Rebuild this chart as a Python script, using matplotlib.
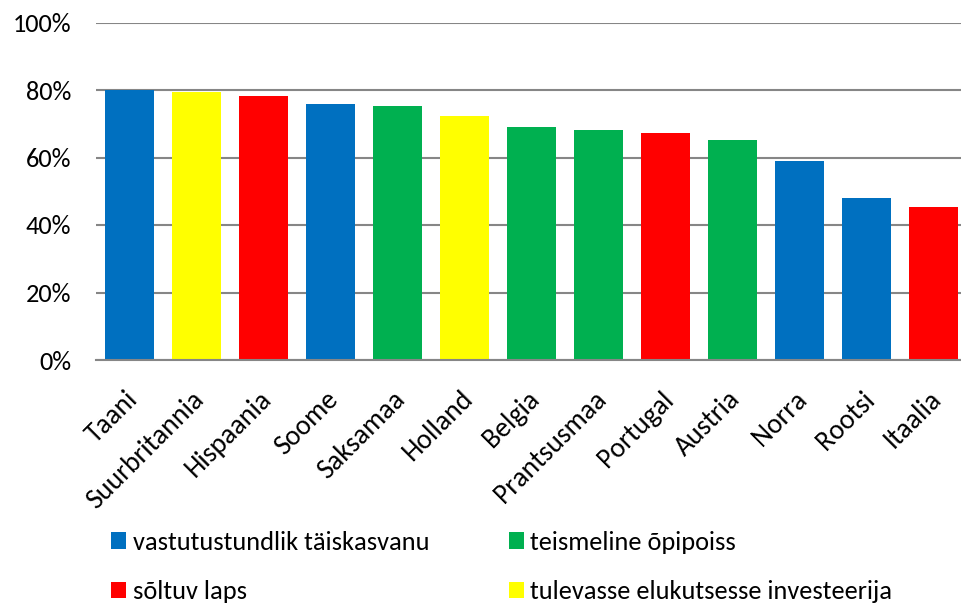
import matplotlib
matplotlib.use("Agg")
import matplotlib.pyplot as plt
from matplotlib import font_manager as fm
from matplotlib.patches import Patch
from matplotlib.ticker import PercentFormatter
from matplotlib.transforms import ScaledTranslation

# Calibri look-alike if we have one
installed = {f.name for f in fm.fontManager.ttflist}
font = next((f for f in ["Carlito", "Calibri", "Lato"] if f in installed), "DejaVu Sans")
plt.rcParams["font.family"] = [font, "DejaVu Sans"]

countries = ["Taani", "Suurbritannia", "Hispaania", "Soome", "Saksamaa", "Holland",
             "Belgia", "Prantsusmaa", "Portugal", "Austria", "Norra", "Rootsi", "Itaalia"]
values = [80, 79.3, 78.2, 75.9, 75.3, 72.2, 69.1, 68.2, 67.3, 65.3, 59.0, 48.0, 45.2]
groups = ["blue", "yellow", "red", "blue", "green", "yellow",
          "green", "green", "red", "green", "blue", "blue", "red"]

group_labels = {
    "blue": "vastutustundlik täiskasvanu",
    "green": "teismeline õpipoiss",
    "red": "sõltuv laps",
    "yellow": "tulevasse elukutsesse investeerija",
}
group_colors = {"blue": "#0070C0", "green": "#00B050", "red": "#FF0000", "yellow": "#FFFF00"}

fig = plt.figure(figsize=(9.62, 6.05), dpi=100)
ax = fig.add_axes([96 / 962, 245 / 605, 871 / 962, 337.5 / 605])

x = range(len(countries))
ax.bar(x, values, width=0.72, color=[group_colors[g] for g in groups], zorder=2)

ax.set_ylim(0, 100)
ax.set_xlim(-0.5, len(countries) - 0.5)
ax.set_yticks(range(0, 101, 20))
ax.yaxis.set_major_formatter(PercentFormatter(decimals=0))
ax.grid(axis="y", color="#868686", linewidth=1.5, zorder=0)
ax.set_axisbelow(True)
for s in ["left", "right", "top"]:
    ax.spines[s].set_visible(False)
ax.spines["bottom"].set_color("#868686")
ax.spines["bottom"].set_linewidth(1.5)
ax.spines["bottom"].set_zorder(3)

ax.tick_params(axis="y", length=0, labelsize=19, pad=18)
ax.tick_params(axis="x", length=0, labelsize=20, pad=19)
ax.set_xticks(list(x))
ax.set_xticklabels(countries, rotation=45, ha="right", va="top", rotation_mode="anchor")
shift = ScaledTranslation(-5 / 100, 0, fig.dpi_scale_trans)
for lbl in ax.get_xticklabels():
    lbl.set_transform(lbl.get_transform() + shift)

order = ["blue", "red", "green", "yellow"]
handles = [Patch(facecolor=group_colors[g], label=group_labels[g]) for g in order]
fig.legend(handles=handles, ncol=2, loc="upper left", bbox_to_anchor=(111 / 962, 1 - 531 / 605),
           frameon=False, fontsize=19, handlelength=0.58, handleheight=0.58,
           handletextpad=0.25, labelspacing=1.0, columnspacing=3.0,
           borderaxespad=0, borderpad=0)

fig.savefig("out.png", dpi=100)
